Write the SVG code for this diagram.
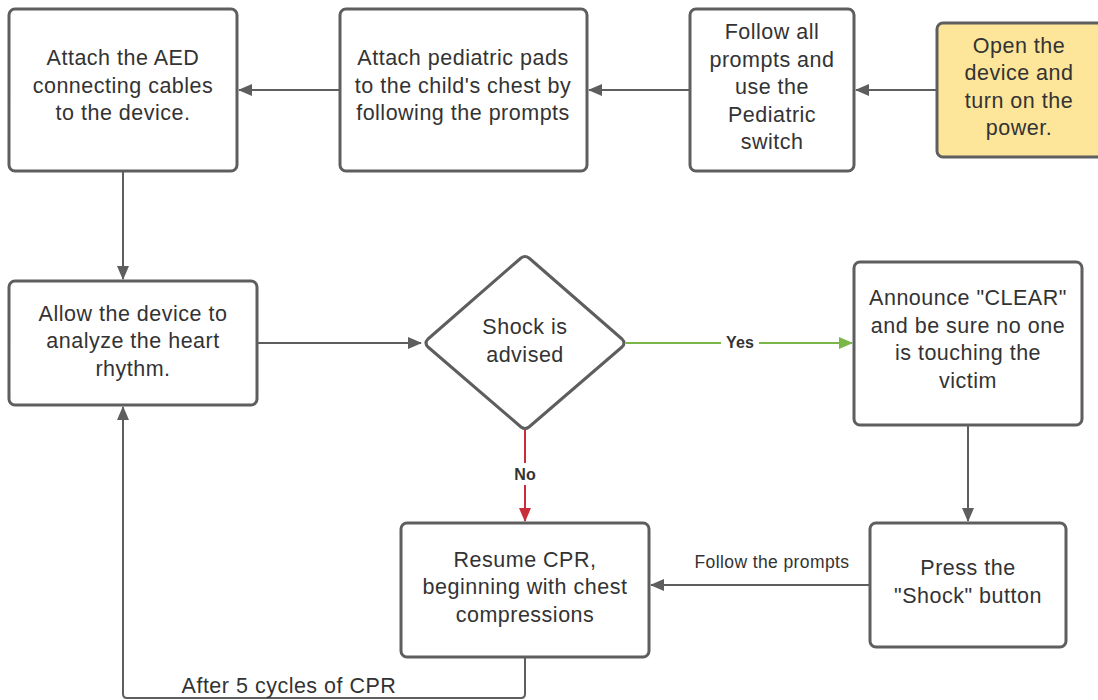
<svg xmlns="http://www.w3.org/2000/svg" width="1098" height="700" viewBox="0 0 1098 700">
  <defs>
    <style>
      .box { fill: #ffffff; stroke: #5e5e5e; stroke-width: 3; }
      .start { fill: #fde59a; }
      .txt { font-family: "Liberation Sans", Arial, sans-serif; font-size: 21.5px; letter-spacing: 0.5px; fill: #333333; text-anchor: middle; dominant-baseline: central; }
      .lbl { font-family: "Liberation Sans", Arial, sans-serif; font-size: 17.5px; letter-spacing: 0.4px; fill: #333333; text-anchor: middle; dominant-baseline: central; }
      .bold { font-weight: bold; font-size: 16px; letter-spacing: 0.2px; }
      .line { fill: none; stroke: #5e5e5e; stroke-width: 2; }
      .yes { stroke: #7ab648; }
      .no { stroke: #c92d39; }
    </style>
    <marker id="arrow" viewBox="0 0 14 12" refX="13" refY="6" markerWidth="14" markerHeight="12" markerUnits="userSpaceOnUse" orient="auto">
      <path d="M0,0 L14,6 L0,12 Z" fill="#5e5e5e"/>
    </marker>
    <marker id="arrow-green" viewBox="0 0 14 12" refX="13" refY="6" markerWidth="14" markerHeight="12" markerUnits="userSpaceOnUse" orient="auto">
      <path d="M0,0 L14,6 L0,12 Z" fill="#7ab648"/>
    </marker>
    <marker id="arrow-red" viewBox="0 0 14 12" refX="13" refY="6" markerWidth="14" markerHeight="12" markerUnits="userSpaceOnUse" orient="auto">
      <path d="M0,0 L14,6 L0,12 Z" fill="#c92d39"/>
    </marker>
  </defs>

  <rect width="1098" height="700" fill="#ffffff"/>

  <!-- connectors -->
  <g id="connectors">
    <path class="line" d="M340,90 L239,90" marker-end="url(#arrow)"/>
    <path class="line" d="M690,90 L589,90" marker-end="url(#arrow)"/>
    <path class="line" d="M937,90 L856,90" marker-end="url(#arrow)"/>
    <path class="line" d="M123,171 L123,279" marker-end="url(#arrow)"/>
    <path class="line" d="M257,343 L421,343" marker-end="url(#arrow)"/>
    <path class="line yes" d="M626,343 L852,343" marker-end="url(#arrow-green)"/>
    <path class="line no" d="M525,430 L525,521" marker-end="url(#arrow-red)"/>
    <path class="line" d="M968,425 L968,521" marker-end="url(#arrow)"/>
    <path class="line" d="M870,585 L651,585" marker-end="url(#arrow)"/>
    <path class="line" d="M525,657 L525,694 Q525,698 521,698 L127,698 Q123,698 123,694 L123,407" marker-end="url(#arrow)"/>
    <rect x="721" y="332" width="38" height="20" fill="#ffffff"/>
    <text class="lbl bold" x="740" y="342">Yes</text>
    <rect x="508" y="463" width="34" height="22" fill="#ffffff"/>
    <text class="lbl bold" x="525" y="474">No</text>
    <text class="lbl" x="772" y="562">Follow the prompts</text>
    <text class="txt" x="289" y="686">After 5 cycles of CPR</text>
  </g>

  <g id="open-device">
    <rect class="box start" x="937" y="23" width="170" height="134" rx="6"/>
    <text class="txt" x="1019" y="46">Open the</text>
    <text class="txt" x="1019" y="73">device and</text>
    <text class="txt" x="1019" y="101">turn on the</text>
    <text class="txt" x="1019" y="128">power.</text>
  </g>

  <g id="follow-prompts">
    <rect class="box" x="690" y="9" width="164" height="162" rx="6"/>
    <text class="txt" x="772" y="32">Follow all</text>
    <text class="txt" x="772" y="60">prompts and</text>
    <text class="txt" x="772" y="87">use the</text>
    <text class="txt" x="772" y="115">Pediatric</text>
    <text class="txt" x="772" y="142">switch</text>
  </g>

  <g id="attach-pads">
    <rect class="box" x="340" y="9" width="247" height="162" rx="6"/>
    <text class="txt" x="463" y="58">Attach pediatric pads</text>
    <text class="txt" x="463" y="86">to the child's chest by</text>
    <text class="txt" x="463" y="113">following the prompts</text>
  </g>

  <g id="attach-cables">
    <rect class="box" x="9" y="9" width="228" height="162" rx="6"/>
    <text class="txt" x="123" y="58">Attach the AED</text>
    <text class="txt" x="123" y="86">connecting cables</text>
    <text class="txt" x="123" y="113">to the device.</text>
  </g>

  <g id="analyze">
    <rect class="box" x="9" y="281" width="248" height="124" rx="6"/>
    <text class="txt" x="133" y="314">Allow the device to</text>
    <text class="txt" x="133" y="341">analyze the heart</text>
    <text class="txt" x="133" y="369">rhythm.</text>
  </g>

  <g id="shock-advised">
    <path class="box" d="M521,258 Q525,255 529,258 L622,339 Q626,343 622,347 L529,427 Q525,430 521,427 L428,347 Q424,343 428,339 Z" stroke-linejoin="round"/>
    <text class="txt" x="525" y="327">Shock is</text>
    <text class="txt" x="525" y="355">advised</text>
  </g>

  <g id="announce-clear">
    <rect class="box" x="854" y="262" width="228" height="163" rx="6"/>
    <text class="txt" x="968" y="298">Announce "CLEAR"</text>
    <text class="txt" x="968" y="326">and be sure no one</text>
    <text class="txt" x="968" y="353">is touching the</text>
    <text class="txt" x="968" y="381">victim</text>
  </g>

  <g id="press-shock">
    <rect class="box" x="870" y="523" width="196" height="124" rx="6"/>
    <text class="txt" x="968" y="568">Press the</text>
    <text class="txt" x="968" y="596">"Shock" button</text>
  </g>

  <g id="resume-cpr">
    <rect class="box" x="401" y="523" width="248" height="134" rx="6"/>
    <text class="txt" x="525" y="560">Resume CPR,</text>
    <text class="txt" x="525" y="587">beginning with chest</text>
    <text class="txt" x="525" y="615">compressions</text>
  </g>
</svg>
